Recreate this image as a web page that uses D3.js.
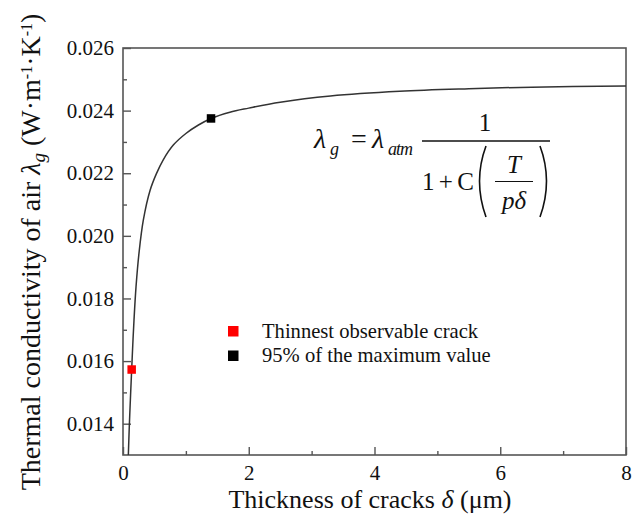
<!DOCTYPE html>
<html><head><meta charset="utf-8">
<script src="https://cdn.jsdelivr.net/npm/d3@7"></script>
<style>
html,body{margin:0;padding:0;background:#fff;}
svg{display:block;}
</style></head>
<body>
<svg id="chart" width="632" height="514" font-family="'Liberation Serif', 'Times New Roman', serif"></svg>
<script>
// Data
const thickness = [0.085,0.10,0.12,0.138,0.155,0.175,0.207,0.254,0.323,0.43,0.53,0.64,0.80,1.00,1.20,1.40,1.70,2.00,2.50,3.30,4.40,5.50,6.50,8.00];
const conductivity = [0.0130,0.0139,0.0149,0.01573,0.01650,0.01731,0.01837,0.01944,0.02050,0.02145,0.02198,0.02243,0.02290,0.02327,0.02354,0.02375,0.02395,0.02408,0.02427,0.02447,0.02462,0.02470,0.02475,0.02479];
const markerNames = ["Thinnest observable crack","95% of the maximum value"];
const markerX = [0.138, 1.40];
const markerY = [0.01573, 0.02375];
const markerColors = ["#ff0000","#000000"];
const xTicks = [0,2,4,6,8];
const xMinorTicks = [1,3,5,7];
const yTicks = [0.014,0.016,0.018,0.020,0.022,0.024,0.026];
const yMinorTicks = [0.015,0.017,0.019,0.021,0.023,0.025];

const FONT = "'Liberation Serif', 'Times New Roman', serif";
const svg = d3.select("#chart");
const m = {left:123, right:6, top:48, bottom:59};
const W = 632, H = 514;
const x = d3.scaleLinear().domain([0,8]).range([m.left, W-m.right]);
const y = d3.scaleLinear().domain([0.013,0.026]).range([H-m.bottom, m.top]);
const axisColor = "#555";

// frame
svg.append("rect").attr("x",x(0)).attr("y",y(0.026))
  .attr("width",x(8)-x(0)).attr("height",y(0.013)-y(0.026))
  .attr("fill","none").attr("stroke",axisColor).attr("stroke-width",1.6);

function styleAxis(g){
  g.attr("font-family",null).attr("font-size",null);
  g.select(".domain").remove();
  g.selectAll("line").attr("stroke",axisColor).attr("stroke-width",1.4);
  g.selectAll("text").attr("font-family",FONT).attr("font-size","21px").attr("fill","#111");
}
// x axis
svg.append("g").attr("transform",`translate(0,${y(0.013)})`)
  .call(d3.axisBottom(x).tickValues(xTicks).tickSize(-8).tickPadding(10).tickFormat(d3.format("d")))
  .call(styleAxis);
svg.append("g").attr("transform",`translate(0,${y(0.013)})`)
  .call(d3.axisBottom(x).tickValues(xMinorTicks).tickSize(-4).tickFormat(""))
  .call(styleAxis);

// y axis
svg.append("g").attr("transform",`translate(${x(0)},0)`)
  .call(d3.axisLeft(y).tickValues(yTicks).tickSize(-8).tickPadding(9).tickFormat(d3.format(".3f")))
  .call(styleAxis);
svg.append("g").attr("transform",`translate(${x(0)},0)`)
  .call(d3.axisLeft(y).tickValues(yMinorTicks).tickSize(-4).tickFormat(""))
  .call(styleAxis);

// curve
const pts = thickness.map((d,i)=>[d,conductivity[i]]);
svg.append("path").datum(pts)
  .attr("d", d3.line().x(d=>x(d[0])).y(d=>y(d[1])).curve(d3.curveCatmullRom.alpha(0.5)))
  .attr("fill","none").attr("stroke","#333").attr("stroke-width",1.5);

// markers
const ms = 8.5;
svg.selectAll("rect.mk").data(markerX).enter().append("rect").attr("class","mk")
  .attr("x",d=>x(d)-ms/2).attr("y",(d,i)=>y(markerY[i])-ms/2)
  .attr("width",ms).attr("height",ms).attr("fill",(d,i)=>markerColors[i]);

// legend
const lg = svg.append("g");
markerNames.forEach((n,i)=>{
  lg.append("rect").attr("x",228).attr("y",326+i*24.5).attr("width",10.5).attr("height",10.5).attr("fill",markerColors[i]);
  lg.append("text").attr("x",262).attr("y",337.5+i*24.5).attr("font-family",FONT).attr("font-size","20.6px").attr("fill","#111").text(n);
});

// axis titles
const xt = svg.append("text").attr("x",370).attr("y",508).attr("text-anchor","middle")
  .attr("font-family",FONT).attr("font-size","26px").attr("fill","#111");
xt.append("tspan").text("Thickness of cracks ");
xt.append("tspan").attr("font-style","italic").text("δ");
xt.append("tspan").text(" (μm)");

const yt = svg.append("text").attr("transform","translate(40,252) rotate(-90)").attr("text-anchor","middle")
  .attr("font-family",FONT).attr("font-size","28px").attr("fill","#111");
yt.append("tspan").text("Thermal conductivity of air ");
yt.append("tspan").attr("font-style","italic").text("λ");
yt.append("tspan").attr("font-style","italic").attr("baseline-shift","-25%").attr("font-size","19px").text("g");
yt.append("tspan").text(" (W·m");
yt.append("tspan").attr("baseline-shift","super").attr("font-size","16px").text("-1");
yt.append("tspan").text("·K");
yt.append("tspan").attr("baseline-shift","super").attr("font-size","16px").text("-1");
yt.append("tspan").text(")");

// formula
const f = svg.append("g").attr("font-family",FONT).attr("fill","#111");
f.append("text").attr("x",314).attr("y",148).attr("font-size","28px").attr("font-style","italic").text("λ");
f.append("text").attr("x",330).attr("y",155).attr("font-size","18px").attr("font-style","italic").text("g");
f.append("text").attr("x",359).attr("y",148).attr("font-size","28px").attr("text-anchor","middle").text("=");
f.append("text").attr("x",372).attr("y",148).attr("font-size","28px").attr("font-style","italic").text("λ");
f.append("text").attr("x",388).attr("y",155).attr("font-size","18px").attr("font-style","italic").attr("textLength",25).text("atm");
f.append("text").attr("x",485).attr("y",131).attr("text-anchor","middle").attr("font-size","25px").text("1");
f.append("line").attr("x1",422).attr("x2",550).attr("y1",141).attr("y2",141).attr("stroke","#111").attr("stroke-width",1.3);
f.append("text").attr("x",422).attr("y",190).attr("font-size","25px").attr("textLength",52).text("1+C");
f.append("text").attr("x",514).attr("y",173).attr("text-anchor","middle").attr("font-style","italic").attr("font-size","25px").text("T");
f.append("line").attr("x1",495).attr("x2",533).attr("y1",181.5).attr("y2",181.5).attr("stroke","#111").attr("stroke-width",1.1);
f.append("text").attr("x",514).attr("y",209).attr("text-anchor","middle").attr("font-style","italic").attr("font-size","25px").text("pδ");
f.append("path").attr("d","M486,146 Q473,181 486,217").attr("fill","none").attr("stroke","#111").attr("stroke-width",1.6);
f.append("path").attr("d","M540,146 Q553,181 540,217").attr("fill","none").attr("stroke","#111").attr("stroke-width",1.6);
</script>
</body></html>
